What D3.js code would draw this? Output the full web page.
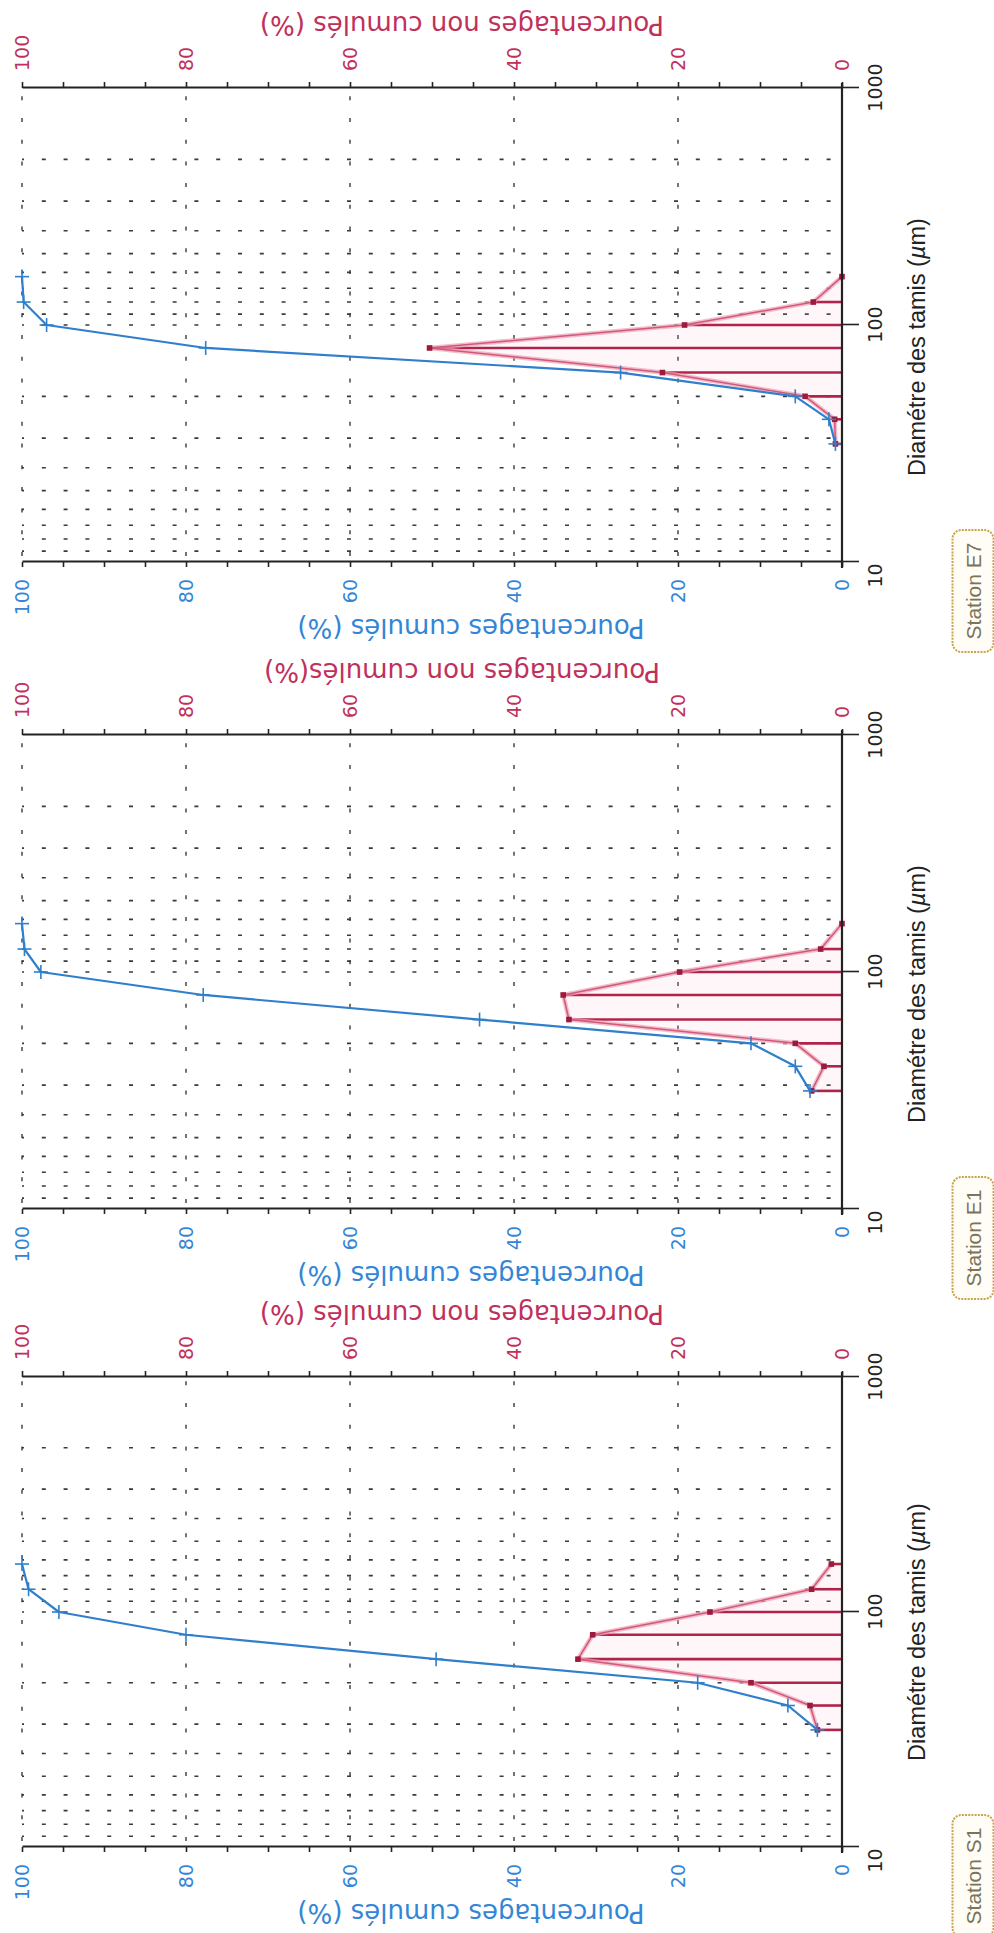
<!DOCTYPE html>
<html>
<head>
<meta charset="utf-8">
<script src="https://cdn.jsdelivr.net/npm/d3@7"></script>
<style>
  html, body { margin: 0; padding: 0; background: #fff; }
  svg { display: block; }
</style>
</head>
<body>
<script>
// ---------------- data ----------------
const sieveSizes = [31.5, 40, 50, 63, 80, 100, 125, 160];          // µm
const stationNames = ["Station E7", "Station E1", "Station S1"];
const cumulE7 = [0.8, 1.6, 5.7, 27.0, 77.6, 97.0, 99.8, 100];
const nonCumulE7 = [0.8, 0.9, 4.5, 21.9, 50.3, 19.2, 3.5, 0];
const cumulE1 = [3.9, 5.7, 11.1, 44.2, 77.9, 97.7, 99.7, 100];
const nonCumulE1 = [3.7, 2.2, 5.7, 33.3, 34.0, 19.8, 2.6, 0];
const cumulS1 = [3.0, 6.6, 17.6, 49.5, 80.0, 95.5, 99.2, 100];
const nonCumulS1 = [3.0, 3.9, 11.1, 32.2, 30.4, 16.1, 3.7, 1.3];
const percentTicks = [0, 5, 10, 15, 20, 25, 30, 35, 40, 45, 50, 55, 60, 65, 70, 75, 80, 85, 90, 95, 100];
const percentLabels = [0, 20, 40, 60, 80, 100];
const sizeTicks = [10, 100, 1000];
const gridDecades = [100, 1000];
const gridDivisors = [1, 2, 3, 4, 5, 6, 7, 8, 9];
const leftTitles = ["Pourcentages cumulés (%)", "Pourcentages cumulés (%)", "Pourcentages cumulés (%)"];
const rightTitles = ["Pourcentages non cumulés (%)", "Pourcentages non cumulés(%)", "Pourcentages non cumulés (%)"];
const xTitle = "Diamétre des tamis (";

const cumulSeries = [cumulE7, cumulE1, cumulS1];
const nonCumulSeries = [nonCumulE7, nonCumulE1, nonCumulS1];

// ---------------- layout ----------------
const panelBase = [562, 1209, 1847];   // screen y of the 10 µm line
const panelLen = [474, 474, 470];      // length of log axis
const H = 820;                         // length of percent axis
const BLUE = "#2f7fcc", BLUE_TXT = "#3385d6";
const RED_TXT = "#c0305a", RED_BAR = "#b0234a", RED_PT = "#9c1a3c";
const GRID = "#3a3a3a";
const NUMFONT = "'DejaVu Sans', sans-serif";

const svg = d3.select("body").append("svg")
  .attr("width", 994).attr("height", 1933);
svg.append("rect").attr("width", 994).attr("height", 1933).attr("fill", "#fff");

stationNames.forEach((name, i) => {
  const W = panelLen[i];
  const g = svg.append("g")
    .attr("transform", `translate(22,${panelBase[i]}) rotate(-90)`);
  const x = d3.scaleLog().domain([10, 1000]).range([0, W]);
  const y = d3.scaleLinear().domain([0, 100]).range([H, 0]);

  const data = sieveSizes.map((s, k) => ({ s, c: cumulSeries[i][k], n: nonCumulSeries[i][k] }));

  // ---- grid: percent lines (dashed) ----
  g.append("g").selectAll("line").data(percentLabels.filter(v => v > 0)).join("line")
    .attr("x1", 0).attr("x2", W)
    .attr("y1", d => y(d)).attr("y2", d => y(d))
    .attr("stroke", GRID).attr("stroke-width", 1.4)
    .attr("stroke-dasharray", "4,17.7").attr("stroke-dashoffset", -6);

  // ---- grid: size lines (dotted) ----
  const gridVals = [];
  gridDecades.forEach(D => gridDivisors.forEach(k => { if (D / k > 10 && D / k < 1000) gridVals.push(D / k); }));
  g.append("g").selectAll("line").data(gridVals).join("line")
    .attr("x1", d => x(d)).attr("x2", d => x(d))
    .attr("y1", 0).attr("y2", H)
    .attr("stroke", GRID).attr("stroke-width", 1.6)
    .attr("stroke-dasharray", "4,17.8").attr("stroke-dashoffset", 2);

  // ---- non-cumulative: area, line, bars, points ----
  const redArea = d3.area().x(d => x(d.s)).y0(y(0)).y1(d => y(d.n));
  g.append("path").datum(data).attr("d", redArea)
    .attr("fill", "#f4b8c8").attr("fill-opacity", 0.12);

  g.append("g").selectAll("line").data(data.filter(d => d.n > 0)).join("line")
    .attr("x1", d => x(d.s)).attr("x2", d => x(d.s))
    .attr("y1", y(0)).attr("y2", d => y(d.n))
    .attr("stroke", RED_BAR).attr("stroke-width", 2.6);

  const redLine = d3.line().x(d => x(d.s)).y(d => y(d.n));
  g.append("path").datum(data).attr("d", redLine)
    .attr("fill", "none").attr("stroke", "#eca2b6").attr("stroke-width", 4.5)
    .attr("stroke-opacity", 0.7).attr("stroke-linejoin", "round");
  g.append("path").datum(data).attr("d", redLine)
    .attr("fill", "none").attr("stroke", "#d2587a").attr("stroke-width", 1.5)
    .attr("stroke-linejoin", "round");

  g.append("g").selectAll("rect").data(data).join("rect")
    .attr("x", d => x(d.s) - 2.8).attr("y", d => y(d.n) - 2.8)
    .attr("width", 5.6).attr("height", 5.6).attr("fill", RED_PT);

  // ---- cumulative: line and crosses ----
  const blueLine = d3.line().x(d => x(d.s)).y(d => y(d.c));
  g.append("path").datum(data).attr("d", blueLine)
    .attr("fill", "none").attr("stroke", BLUE).attr("stroke-width", 2.2)
    .attr("stroke-linejoin", "round");
  const cross = g.append("g").selectAll("g").data(data).join("g")
    .attr("transform", d => `translate(${x(d.s)},${y(d.c)})`);
  cross.append("line").attr("x1", -7).attr("x2", 7).attr("y1", 0).attr("y2", 0)
    .attr("stroke", BLUE).attr("stroke-width", 1.6);
  cross.append("line").attr("x1", 0).attr("x2", 0).attr("y1", -7).attr("y2", 7)
    .attr("stroke", BLUE).attr("stroke-width", 1.6);

  // ---- left axis (cumulative, blue) ----
  const axL = g.append("g").call(
    d3.axisLeft(y).tickValues(percentTicks).tickSize(5).tickSizeOuter(0).tickPadding(12)
      .tickFormat(d => percentLabels.includes(d) ? d : ""));
  axL.select(".domain").attr("stroke", "#222").attr("stroke-width", 2.2);
  axL.selectAll(".tick line").attr("stroke", "#222").attr("stroke-width", 1.6);
  axL.selectAll("text").attr("fill", BLUE_TXT).style("font-family", NUMFONT).style("font-size", "19px");

  // ---- right axis (non cumulative, red) ----
  const axR = g.append("g").attr("transform", `translate(${W},0)`).call(
    d3.axisRight(y).tickValues(percentTicks).tickSize(6).tickSizeOuter(0).tickPadding(11)
      .tickFormat(d => percentLabels.includes(d) ? d : ""));
  axR.select(".domain").attr("stroke", "#222").attr("stroke-width", 2.2);
  axR.selectAll(".tick line").attr("stroke", "#222").attr("stroke-width", 1.6);
  axR.selectAll("text").attr("fill", RED_TXT).style("font-family", NUMFONT).style("font-size", "19px");

  // ---- bottom axis (sieve sizes, log) ----
  const axB = g.append("g").attr("transform", `translate(0,${H})`).call(
    d3.axisBottom(x).tickValues(sizeTicks).tickSize(17).tickSizeOuter(0).tickPadding(10)
      .tickFormat(d3.format("d")));
  axB.select(".domain").remove();
  axB.append("line").attr("x1", -6).attr("x2", W + 5).attr("y1", 0).attr("y2", 0)
    .attr("stroke", "#222").attr("stroke-width", 2.2);
  axB.selectAll(".tick line").attr("stroke", "#222").attr("stroke-width", 1.6);
  axB.selectAll("text").attr("fill", "#222").style("font-family", NUMFONT).style("font-size", "19px")
    .attr("dx", d => d === sizeTicks[0] ? -14 : 0);

  // ---- titles ----
  g.append("text")
    .attr("transform", `translate(-66,${449}) rotate(-90)`)
    .attr("text-anchor", "middle").attr("dominant-baseline", "central")
    .attr("fill", BLUE_TXT).style("font-family", NUMFONT).style("font-size", "26px")
    .text(leftTitles[i]);
  g.append("text")
    .attr("transform", `translate(${W + 63},${440}) rotate(-90)`)
    .attr("text-anchor", "middle").attr("dominant-baseline", "central")
    .attr("fill", RED_TXT).style("font-family", NUMFONT).style("font-size", "26px")
    .text(rightTitles[i]);
  const xt = g.append("text")
    .attr("x", 215).attr("y", H + 75)
    .attr("text-anchor", "middle").attr("dominant-baseline", "central")
    .attr("fill", "#222").style("font-family", "'Liberation Sans', Arial, sans-serif").style("font-size", "23.5px");
  xt.append("tspan").text(xTitle);
  xt.append("tspan").attr("font-style", "italic").text("µ");
  xt.append("tspan").text("m)");

  // ---- station label ----
  const sb = g.append("g").attr("transform", `translate(-29,${951})`);
  sb.append("rect").attr("x", -61).attr("y", -20.5).attr("width", 122).attr("height", 41)
    .attr("rx", 9).attr("fill", "#fffdf6")
    .attr("stroke", "#c9a34a").attr("stroke-width", 2).attr("stroke-dasharray", "2,1.2");
  sb.append("text").attr("text-anchor", "middle").attr("dominant-baseline", "central")
    .attr("fill", "#7b7458").style("font-family", "'Liberation Sans', Arial, sans-serif")
    .style("font-size", "21px").text(name);
});
</script>
</body>
</html>
